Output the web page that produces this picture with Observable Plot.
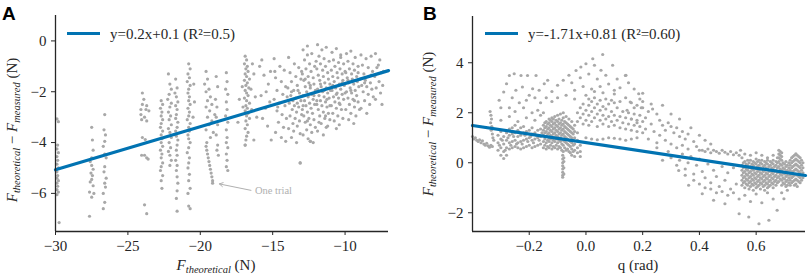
<!DOCTYPE html>
<html><head><meta charset="utf-8">
<script src="https://cdn.jsdelivr.net/npm/d3@7"></script>
<script src="https://cdn.jsdelivr.net/npm/@observablehq/plot@0.6"></script>
<style>
body{margin:0;background:#fff;}
#wrap{display:flex;width:809px;height:278px;overflow:hidden;}
</style></head><body><div id="wrap"></div>
<script>
// ---------- Panel A data ----------
const xTicksA = [-30, -25, -20, -15, -10];
const yTicksA = [0, -2, -4, -6];
const fitA = [[-30, -5.07], [-7, -1.17]];
const legendA = "y=0.2x+0.1 (R²=0.5)";
const annotA = [{x1: -16.5, y1: -5.88, x2: -18.75, y2: -5.62, label: "One trial"}];

const aTrials = [
 [-29.9,-3.07],[-29.8,-3.18],[-29.85,-4.1],[-29.9,-4.25],[-29.8,-4.4],[-29.9,-4.55],[-29.85,-4.7],[-29.9,-4.85],[-29.8,-5.0],[-29.9,-5.15],[-29.85,-5.3],[-29.9,-5.4],[-29.8,-5.5],[-29.9,-5.6],[-29.85,-5.72],[-29.9,-5.85],[-29.8,-5.95],[-29.9,-6.05],[-29.75,-7.15],
 [-27.5,-3.4],[-27.45,-3.9],[-27.4,-4.3],[-27.5,-4.6],[-27.6,-4.75],[-27.5,-4.9],[-27.4,-5.05],[-27.55,-5.2],[-27.45,-5.3],[-27.5,-5.45],[-27.6,-5.55],[-27.4,-5.7],[-27.65,-5.95],[-27.35,-6.0],[-27.5,-6.15],[-27.65,-6.9],
 [-26.6,-2.9],[-26.65,-3.5],[-26.55,-3.7],[-26.6,-3.95],[-26.7,-4.15],[-26.6,-4.45],[-26.5,-4.6],[-26.6,-4.95],[-26.65,-5.15],[-26.5,-5.4],[-26.6,-5.6],[-26.55,-5.75],[-26.7,-6.0],[-26.6,-6.35],[-26.7,-6.6],
 [-23.85,-4.5],[-23.6,-4.65],[-23.85,-6.45],[-23.7,-6.8],
 [-24.0,-2.05],[-23.9,-2.3],[-24.0,-2.5],[-23.7,-2.55],[-24.1,-2.7],[-23.75,-2.7],[-23.55,-2.75],[-24.1,-2.9],[-23.85,-3.0],[-24.05,-3.1],[-23.7,-3.15],[-24.0,-3.8],[-23.8,-3.88],[-23.7,-4.6],[-24.05,-4.5],
 [-22.7,-2.35],[-22.6,-2.5],[-22.75,-2.65],[-22.65,-2.8],[-22.7,-2.95],[-22.6,-3.1],[-22.7,-3.25],[-22.75,-3.4],[-22.6,-3.55],[-22.7,-3.7],[-22.65,-3.85],[-22.7,-4.0],[-22.6,-4.15],[-22.75,-4.3],[-22.65,-4.45],[-22.7,-4.6],[-22.6,-4.8],[-22.7,-4.95],[-22.75,-5.1],[-22.6,-5.3],[-22.7,-5.5],[-22.65,-5.8],
 [-22.2,-1.3],[-22.1,-1.7],[-22.0,-1.9],[-22.15,-2.1],[-22.25,-2.3],[-22.0,-2.45],[-22.1,-2.6],[-22.2,-2.8],[-22.05,-2.95],[-22.15,-3.1],[-22.0,-3.3],[-22.2,-3.45],[-22.1,-3.6],[-22.0,-3.8],[-22.15,-4.0],[-22.05,-4.2],[-22.2,-4.35],[-22.1,-4.5],[-22.0,-4.7],[-22.1,-4.9],
 [-21.7,-1.5],[-21.6,-1.85],[-21.75,-2.05],[-21.65,-2.2],[-21.55,-2.4],[-21.7,-2.55],[-21.6,-2.7],[-21.65,-2.9],[-21.7,-3.05],[-21.55,-3.2],[-21.6,-3.4],[-21.7,-3.55],[-21.65,-3.75],[-21.55,-3.9],[-21.6,-4.1],[-21.65,-4.3],[-21.6,-4.5],[-21.7,-4.7],[-21.6,-4.9],[-21.65,-5.1],[-21.6,-5.35],[-21.55,-5.6],[-21.6,-5.9],[-21.65,-6.2],[-21.6,-6.7],
 [-20.8,-0.9],[-20.7,-1.1],[-20.85,-1.3],[-20.75,-1.45],[-20.9,-1.6],[-20.7,-1.75],[-20.8,-1.9],[-20.85,-2.05],[-20.75,-2.2],[-20.8,-2.35],[-20.7,-2.5],[-20.85,-2.65],[-20.75,-2.8],[-20.8,-2.95],[-20.9,-3.1],[-20.7,-3.25],[-20.8,-3.4],[-20.75,-3.55],[-20.85,-3.7],[-20.8,-3.85],[-20.7,-4.0],[-20.8,-4.2],[-20.9,-4.4],[-20.75,-4.6],[-20.8,-4.8],[-20.85,-5.0],[-20.75,-5.25],[-20.8,-5.5],[-20.7,-5.8],[-20.85,-6.0],[-20.8,-6.5],[-20.7,-6.6],
 [-20.45,-1.7],[-20.4,-2.4],[-20.5,-3.0],
 [-19.6,-1.2],[-19.5,-1.5],[-19.7,-1.7],[-19.4,-1.9],[-19.6,-2.0],[-19.3,-2.2],[-19.5,-2.35],[-19.2,-2.5],[-19.6,-2.6],[-19.35,-2.75],[-19.0,-2.9],[-19.5,-3.0],[-19.2,-3.15],[-19.4,-3.3],[-19.6,-3.5],[-19.1,-3.6],[-19.3,-3.8],[-19.55,-4.0],[-19.6,-4.15],[-19.55,-4.3],[-19.5,-4.45],[-19.45,-4.6],[-19.4,-4.75],[-19.35,-4.9],[-19.3,-5.05],[-19.25,-5.2],[-19.2,-5.35],[-19.15,-5.5],[-19.15,-5.6],
 [-18.9,-1.4],[-18.8,-1.8],[-18.95,-2.3],[-18.85,-2.6],[-18.9,-3.0],[-18.8,-3.3],[-18.9,-3.7],[-18.8,-4.1],[-18.85,-4.3],[-18.75,-4.5],
 [-18.2,-1.25],[-18.15,-1.6],[-18.25,-1.9],[-18.1,-2.1],[-18.2,-2.4],[-18.15,-2.7],[-18.25,-2.95],[-18.1,-3.2],[-18.2,-3.5],[-18.15,-3.8],[-18.2,-4.0],[-18.1,-4.2],[-18.2,-4.45],[-18.15,-4.7],[-18.2,-4.95],[-18.1,-5.1],
 [-16.9,-0.6],[-16.8,-0.75],[-16.95,-0.9],[-16.75,-1.0],[-16.85,-1.1],[-16.7,-1.2],[-16.9,-1.3],[-16.8,-1.4],[-16.6,-1.5],[-16.95,-1.55],[-16.75,-1.65],[-16.85,-1.75],[-16.65,-1.85],[-16.9,-1.95],[-16.8,-2.05],[-16.7,-2.15],[-16.95,-2.25],[-16.8,-2.35],[-16.6,-2.45],[-16.85,-2.55],[-16.75,-2.65],[-16.9,-2.75],[-16.7,-2.85],[-16.8,-2.95],[-16.6,-3.05],[-16.85,-3.15],[-16.75,-3.3],[-16.9,-3.45],[-16.7,-3.6],[-16.8,-3.75],[-16.85,-3.9],[-17.1,-1.8],[-17.05,-2.6],[-16.5,-1.9],[-16.45,-2.7],[-16.9,-4.1]
];

const aCloud = [
 [-16.3,-1.3],[-16.2,-2.2],[-16.1,-3.0],[-16.4,-0.9],[-17.3,-2.3],[-17.4,-3.2],[-16.3,-3.9],
 [-15.9,-1.0],[-15.6,-1.35],[-15.3,-1.7],[-15.8,-2.15],[-15.2,-2.4],[-15.5,-2.65],[-15.7,-3.05],[-15.35,-3.35],[-15.1,-3.9],[-15.45,-2.0],[-15.75,-0.75],[-15.15,-1.2],
 [-14.9,-0.7],[-14.5,-1.0],[-14.2,-1.15],[-14.8,-1.45],[-14.4,-1.6],[-14.1,-1.8],[-14.7,-1.95],[-14.3,-2.1],[-14.9,-2.3],[-14.55,-2.45],[-14.15,-2.55],[-14.7,-2.75],[-14.35,-2.9],[-14.05,-3.05],[-14.6,-3.2],[-14.25,-3.4],[-14.8,-3.6],[-14.4,-3.8],[-14.1,-3.95],[-14.65,-2.6],[-14.0,-2.2],[-14.85,-1.2],
 [-13.9,-0.65],[-13.5,-0.9],[-13.2,-1.05],[-13.8,-1.25],[-13.4,-1.4],[-13.05,-1.5],[-13.7,-1.6],[-13.3,-1.75],[-13.95,-1.85],[-13.55,-1.95],[-13.15,-2.05],[-13.75,-2.15],[-13.4,-2.25],[-13.05,-2.35],[-13.85,-2.45],[-13.5,-2.55],[-13.2,-2.6],[-13.65,-2.7],[-13.35,-2.8],[-13.0,-2.9],[-13.8,-2.95],[-13.45,-3.05],[-13.15,-3.15],[-13.6,-3.25],[-13.3,-3.35],[-13.9,-3.45],[-13.55,-3.55],[-13.1,-3.65],[-13.7,-3.8],[-13.35,-4.0],[-13.1,-4.8],[-13.6,-2.35],[-13.25,-1.95],
 [-12.9,-0.35],[-12.6,-0.2],[-12.3,-0.5],[-12.8,-0.75],[-12.45,-0.9],[-12.1,-1.0],[-12.7,-1.1],[-12.35,-1.2],[-12.95,-1.3],[-12.55,-1.4],[-12.2,-1.45],[-12.85,-1.55],[-12.5,-1.65],[-12.15,-1.7],[-12.75,-1.8],[-12.4,-1.85],[-12.05,-1.95],[-12.65,-2.0],[-12.3,-2.1],[-12.9,-2.15],[-12.55,-2.2],[-12.2,-2.3],[-12.8,-2.35],[-12.45,-2.45],[-12.1,-2.5],[-12.7,-2.55],[-12.35,-2.65],[-12.95,-2.7],[-12.6,-2.8],[-12.25,-2.85],[-12.85,-2.95],[-12.5,-3.05],[-12.15,-3.1],[-12.75,-3.2],[-12.4,-3.3],[-12.05,-3.4],[-12.65,-3.5],[-12.3,-3.6],[-12.9,-3.7],[-12.55,-3.85],[-12.2,-4.0],[-12.4,-3.95],[-12.6,-0.55],[-12.0,-0.8],
 [-11.9,-0.15],[-11.6,-0.35],[-11.3,-0.25],[-11.8,-0.6],[-11.45,-0.7],[-11.1,-0.8],[-11.7,-0.9],[-11.35,-1.0],[-11.95,-1.1],[-11.55,-1.15],[-11.2,-1.25],[-11.85,-1.35],[-11.5,-1.4],[-11.15,-1.5],[-11.75,-1.55],[-11.4,-1.65],[-11.05,-1.7],[-11.65,-1.8],[-11.3,-1.85],[-11.9,-1.9],[-11.55,-2.0],[-11.2,-2.05],[-11.8,-2.15],[-11.45,-2.2],[-11.1,-2.25],[-11.7,-2.35],[-11.35,-2.4],[-11.95,-2.5],[-11.6,-2.55],[-11.25,-2.6],[-11.85,-2.7],[-11.5,-2.8],[-11.15,-2.85],[-11.75,-2.95],[-11.4,-3.05],[-11.05,-3.1],[-11.65,-3.25],[-11.3,-3.4],[-11.9,-3.55],[-11.5,-3.7],[-11.2,-3.35],[-11.0,-1.95],
 [-10.9,-0.45],[-10.6,-0.3],[-10.3,-0.55],[-10.8,-0.75],[-10.45,-0.85],[-10.1,-0.9],[-10.7,-1.0],[-10.35,-1.1],[-10.95,-1.15],[-10.55,-1.25],[-10.2,-1.3],[-10.85,-1.4],[-10.5,-1.45],[-10.15,-1.55],[-10.75,-1.6],[-10.4,-1.7],[-10.05,-1.75],[-10.65,-1.85],[-10.3,-1.9],[-10.9,-1.95],[-10.55,-2.05],[-10.2,-2.1],[-10.8,-2.2],[-10.45,-2.25],[-10.1,-2.3],[-10.7,-2.4],[-10.35,-2.5],[-10.95,-2.55],[-10.6,-2.65],[-10.25,-2.7],[-10.85,-2.85],[-10.5,-2.95],[-10.15,-3.05],[-10.75,-3.15],[-10.4,-3.3],[-10.6,-3.45],[-10.0,-1.2],[-10.3,-0.65],
 [-9.9,-0.5],[-9.6,-0.4],[-9.3,-0.65],[-9.8,-0.8],[-9.45,-0.9],[-9.1,-1.0],[-9.7,-1.1],[-9.35,-1.15],[-9.95,-1.25],[-9.55,-1.3],[-9.2,-1.4],[-9.85,-1.45],[-9.5,-1.5],[-9.15,-1.6],[-9.75,-1.65],[-9.4,-1.7],[-9.05,-1.8],[-9.65,-1.85],[-9.3,-1.95],[-9.9,-2.0],[-9.55,-2.05],[-9.2,-2.15],[-9.8,-2.25],[-9.45,-2.3],[-9.1,-2.4],[-9.7,-2.5],[-9.35,-2.6],[-9.95,-2.7],[-9.6,-2.85],[-9.25,-2.95],[-9.75,-3.1],[-9.4,-3.25],[-9.0,-2.7],
 [-8.9,-0.55],[-8.55,-0.7],[-8.2,-0.6],[-8.8,-0.95],[-8.4,-1.05],[-8.1,-1.2],[-8.7,-1.3],[-8.35,-1.4],[-8.95,-1.5],[-8.6,-1.55],[-8.25,-1.65],[-8.85,-1.75],[-8.5,-1.8],[-8.15,-1.9],[-8.75,-2.0],[-8.4,-2.1],[-8.05,-2.2],[-8.65,-2.35],[-8.3,-2.5],[-8.9,-2.65],[-8.5,-2.85],[-8.2,-1.35],
 [-7.9,-0.5],[-7.6,-0.75],[-7.8,-1.05],[-7.5,-1.25],[-7.95,-1.4],[-7.65,-1.6],[-7.4,-1.75],[-7.85,-1.85],[-7.55,-2.05],[-7.9,-2.3],[-7.45,-2.5],[-7.7,-0.95],[-7.35,-1.2],
 [-13.1,-4.8],[-12.4,-3.95],[-16.9,-4.1],
 [-13.0,-1.2],[-12.75,-1.5],[-12.4,-1.75],[-12.15,-2.15],[-11.95,-2.35],[-11.7,-1.7],[-11.45,-1.95],[-11.25,-2.3],[-11.05,-2.55],[-10.85,-1.75],[-10.6,-2.1],[-10.4,-2.45],[-10.2,-1.65],[-10.0,-2.05],[-9.8,-1.55],[-9.6,-1.95],[-9.35,-2.35],[-13.3,-2.45],[-12.9,-2.55],[-12.6,-3.15],[-13.7,-2.0],[-11.8,-3.2],[-11.35,-2.95],[-9.1,-1.25],[-8.65,-1.65]
];

// ---------- Panel B data ----------
const xTicksB = [-0.2, 0, 0.2, 0.4, 0.6];
const yTicksB = [-2, 0, 2, 4];
const fitB = [[-0.4, 1.49], [0.774, -0.51]];
const legendB = "y=-1.71x+0.81 (R²=0.60)";

const bLeft = [
 [-0.40,1.05],[-0.395,0.95],[-0.39,1.0],[-0.385,0.9],[-0.38,0.85],[-0.375,0.92],[-0.37,0.8],[-0.365,0.88],[-0.36,0.75],[-0.355,0.7],[-0.35,0.78],[-0.345,0.68],[-0.34,0.62],[-0.335,0.7],[-0.33,0.65],
 [-0.338,2.05],[-0.335,1.9],[-0.333,1.75],[-0.336,1.6],[-0.332,1.45],[-0.334,1.3],[-0.33,1.15],[-0.328,1.0],[-0.325,0.9],
 [-0.3,1.7],[-0.27,1.85],[-0.24,1.65],[-0.21,1.8],[-0.18,1.7],[-0.16,1.9]
];
const bBandCols = [
 [-0.31,[0.5,0.8,1.1]],[-0.305,[0.7]],[-0.30,[0.3,0.6,0.95,1.25]],[-0.295,[0.9]],[-0.29,[0.17,0.45,0.75,1.05]],[-0.285,[0.5]],
 [-0.28,[0.3,0.6,0.9,1.2]],[-0.275,[1.0]],[-0.27,[0.55,0.8,1.1,1.35]],[-0.265,[0.7]],[-0.26,[0.6,0.85,1.15,1.4]],[-0.255,[1.05]],
 [-0.25,[0.65,0.9,1.2,1.5]],[-0.245,[0.75]],[-0.24,[0.6,0.8,1.05,1.3]],[-0.235,[1.2]],[-0.23,[0.55,0.85,1.1,1.4]],[-0.225,[0.75]],
 [-0.22,[0.6,0.9,1.2,1.45]],[-0.215,[1.1]],[-0.21,[0.65,0.95,1.25]],[-0.205,[0.85]],[-0.20,[0.7,1.0,1.3]],[-0.195,[1.05]],
 [-0.19,[0.6,0.9,1.15,1.4]],[-0.185,[0.8]],[-0.18,[0.65,0.95,1.2]],[-0.175,[1.1]],[-0.17,[0.7,1.0,1.3]],[-0.165,[0.9]],
 [-0.16,[0.75,1.05,1.35]],[-0.155,[1.2]]
];
const bBlobCols = [
 [-0.15,[0.6,0.85,1.1,1.3,1.5]],[-0.145,[0.7,0.95,1.2,1.4,1.6]],[-0.14,[0.55,0.8,1.05,1.25,1.45,1.65]],
 [-0.135,[0.65,0.9,1.15,1.35,1.55]],[-0.13,[0.6,0.85,1.0,1.2,1.4,1.6,1.75]],[-0.125,[0.7,0.95,1.1,1.3,1.5,1.7]],
 [-0.12,[0.55,0.8,1.05,1.25,1.45,1.65,1.8]],[-0.115,[0.65,0.9,1.15,1.35,1.55,1.75]],[-0.11,[0.6,0.85,1.0,1.2,1.4,1.6,1.85]],
 [-0.105,[0.7,0.95,1.1,1.3,1.5,1.7]],[-0.10,[0.55,0.8,1.05,1.25,1.45,1.65,1.9]],[-0.095,[0.65,0.9,1.15,1.35,1.55,1.75]],
 [-0.09,[0.6,0.85,1.0,1.2,1.4,1.6,1.95]],[-0.085,[0.5,0.75,0.95,1.1,1.3,1.5,1.7]],[-0.08,[0.45,0.7,0.9,1.15,1.35,1.55,1.8,2.0]],
 [-0.075,[0.6,0.85,1.05,1.25,1.45,1.65]],[-0.07,[0.5,0.8,1.0,1.2,1.4,1.6,1.85]],[-0.065,[0.55,0.75,0.95,1.15,1.35,1.55]],
 [-0.06,[0.45,0.7,0.9,1.1,1.3,1.5,1.75]],[-0.055,[0.4,0.65,0.85,1.05,1.25,1.45]],[-0.05,[0.3,0.55,0.8,1.0,1.2,1.4,1.65]],
 [-0.045,[0.45,0.7,0.9,1.15,1.35]],[-0.04,[0.25,0.5,0.75,1.0,1.25,1.5]],[-0.03,[0.4,0.6,0.9,1.2]],[-0.02,[0.25,0.45,0.7]],
 [-0.082,[0.3,0.15,0.0,-0.12,-0.25,-0.38,-0.5,-0.58]],[-0.078,[0.2,0.05,-0.2,-0.45]]
];
const bRiseCols = [
 [-0.03,[1.65,2.0]],[-0.02,[1.8,2.2]],[-0.01,[1.55,1.95,2.35]],[0.0,[1.7,2.1]],
 [0.01,[1.5,1.9,2.3,2.55]],[0.02,[1.65,2.05,2.45]],[0.03,[1.8,2.2,2.6]],
 [0.04,[1.45,1.95,2.35]],[0.05,[1.7,2.1,2.5]],[0.06,[1.55,1.9,2.25,2.8]],
 [0.07,[1.75,2.15,2.55]],[0.08,[1.45,1.85,2.35]],[0.09,[1.65,2.05,2.5]],
 [0.10,[1.5,1.9,2.4,2.75]],[0.11,[1.7,2.2]],[0.12,[1.4,1.85,2.45]],
 [0.13,[1.6,2.05]],[0.14,[1.35,1.8,2.6]],[0.15,[1.55,2.0]],
 [0.16,[1.3,1.75,2.4]],[0.17,[1.5,1.95]],[0.18,[1.25,1.7,2.3]],
 [0.19,[1.45,1.9]],[0.20,[1.2,1.65,2.2]],
 [0.0,[1.0]],[0.02,[0.95]],[0.04,[0.92]],[0.06,[0.95]],[0.08,[1.0]],[0.1,[0.98]],[0.12,[0.95]],[0.14,[0.9]],[0.16,[0.95]],[0.18,[1.0]]
];
const bArcs = [
 [-0.27,3.49],[-0.253,3.56],[-0.229,3.49],[-0.206,3.49],[-0.176,3.49],[-0.28,3.16],[-0.29,2.83],[-0.306,2.5],[-0.3,2.2],[-0.247,2.9],[-0.224,3.03],[-0.188,2.96],[-0.165,2.9],[-0.147,3.16],[-0.135,3.3],[-0.1,3.1],[-0.12,2.85],[-0.2,2.7],[-0.26,2.6],[-0.235,2.4],[-0.21,2.5],[-0.18,2.6],[-0.16,2.4],[-0.14,2.6],[-0.12,2.45],[-0.1,2.6],[-0.27,2.2],[-0.25,2.05],[-0.22,2.2],[-0.19,2.0],[-0.17,2.1],[-0.15,2.0],
 [-0.035,3.69],[-0.018,3.83],[0.0,3.96],[0.024,4.16],[0.059,4.33],[0.03,3.9],[0.053,3.7],[0.094,3.9],[0.141,3.5],[-0.06,3.5],[-0.08,3.3],[-0.05,3.2],[-0.02,3.4],[0.01,3.55],[0.04,3.35],[0.07,3.5],[0.11,3.35],[0.08,3.15],[0.12,3.0],[0.15,3.2],[0.17,2.95],[0.2,2.78],[-0.04,2.9],[-0.01,3.05],[0.02,2.95],[0.05,3.05],[0.1,2.9],[-0.07,2.7],[-0.04,2.55],[0.0,2.7],[0.03,2.85]
];
const bDescent = [
 [0.139,3.49],[0.156,2.43],[0.186,2.76],[0.19,2.55],[0.145,2.1],[0.17,2.2],[0.195,2.2],[0.22,2.05],[0.235,2.15],[0.16,1.75],[0.18,1.6],[0.21,1.8],[0.23,1.55],[0.25,1.95],[0.26,1.7],[0.27,1.5],[0.21,1.35],[0.24,1.25],[0.26,1.1],[0.28,1.3],[0.29,1.6],[0.3,1.45],[0.31,1.2],[0.32,1.4],[0.33,1.05],[0.34,1.25],[0.35,0.95],[0.36,1.15],[0.22,0.95],[0.25,0.8],[0.28,0.9],[0.3,0.75],[0.32,0.6],[0.34,0.7],[0.36,0.55],[0.38,0.85],[0.39,0.65],[0.4,0.5],[0.27,2.3],[0.3,1.95],[0.33,1.75],[0.37,1.4],[0.4,1.1],[0.42,0.9],[0.44,0.75],[0.2,2.45],[0.23,2.35],[0.25,0.6],
 [0.3,0.2],[0.32,-0.1],[0.33,0.1],[0.35,-0.25],[0.36,0.0],[0.37,0.25],[0.38,-0.45],[0.39,-0.1],[0.4,0.15],[0.41,-0.35],[0.42,-0.6],[0.43,-0.05],[0.44,-0.8],[0.45,-0.3],[0.46,-0.55],[0.47,-0.95],[0.48,-0.15],[0.49,-0.7],[0.5,-0.4],[0.51,-1.05],[0.52,-0.2],[0.53,-0.85],[0.34,0.35],[0.29,0.45],[0.27,0.1],
 [0.41,0.5],[0.42,0.45],[0.43,0.55],[0.44,0.4],[0.45,0.5],[0.46,0.45],[0.47,0.38],[0.48,0.5],[0.49,0.42],[0.5,0.35],[0.51,0.45],[0.52,0.32],[0.53,0.4],[0.54,0.3],[0.545,0.5],[0.55,0.2],[0.56,0.35],[0.58,0.3],[0.6,0.4],[0.62,0.3],[0.64,0.2],[0.66,0.3],
 [0.327,-0.31],[0.362,-0.9],[0.41,-1.24],[0.45,-1.5],[0.49,-1.64],[0.54,-2.04],[0.574,-2.17],[0.61,-2.44],[0.645,-2.3],[0.674,-1.9],[0.698,-1.44],[0.71,-1.1],
 [0.38,-0.7],[0.42,-1.0],[0.46,-1.2],[0.5,-1.3],[0.54,-1.45],[0.58,-1.55],[0.62,-1.6],[0.66,-1.45],[0.69,-1.2],
 [0.44,-1.05],[0.48,-1.15],[0.52,-1.2],[0.56,-1.3],[0.6,-1.25],[0.64,-1.2],[0.35,-0.5],[0.4,-0.85]
];
const bRightCols = [
 [0.55,[-0.1,-0.3,-0.5,-0.7,-0.9]],[0.555,[0.0,-0.2,-0.4,-0.6,-0.8]],[0.56,[0.05,-0.15,-0.35,-0.55,-0.75,-1.0]],
 [0.565,[-0.05,-0.25,-0.45,-0.65,-0.85]],[0.57,[0.1,-0.1,-0.3,-0.5,-0.7,-0.9]],[0.575,[0.0,-0.2,-0.4,-0.6,-0.8,-1.05]],
 [0.58,[0.1,-0.15,-0.35,-0.55,-0.75,-0.95]],[0.585,[-0.05,-0.25,-0.45,-0.65,-0.85]],[0.59,[0.05,-0.1,-0.3,-0.5,-0.7,-0.9,-1.1]],
 [0.595,[0.0,-0.2,-0.4,-0.6,-0.8]],[0.60,[0.15,-0.05,-0.25,-0.45,-0.65,-0.85,-1.0]],[0.605,[0.05,-0.15,-0.35,-0.55,-0.75,-0.95]],
 [0.61,[0.1,-0.1,-0.3,-0.5,-0.7,-0.9]],[0.615,[0.0,-0.2,-0.4,-0.6,-0.8,-1.05]],[0.62,[0.1,-0.05,-0.25,-0.45,-0.65,-0.85]],
 [0.625,[-0.15,-0.35,-0.55,-0.75,-0.95]],[0.63,[0.05,-0.1,-0.3,-0.5,-0.7,-0.9,-1.1]],[0.635,[0.0,-0.2,-0.4,-0.6,-0.8]],
 [0.64,[0.1,-0.05,-0.25,-0.45,-0.65,-0.85,-1.0]],[0.645,[-0.15,-0.35,-0.55,-0.75,-0.95]],[0.65,[0.05,-0.1,-0.3,-0.5,-0.7,-0.9]],
 [0.655,[0.0,-0.2,-0.4,-0.6,-0.8]],[0.66,[0.1,-0.05,-0.25,-0.45,-0.65,-0.85,-1.0]],[0.665,[-0.15,-0.35,-0.55,-0.75]],
 [0.67,[0.05,-0.1,-0.3,-0.5,-0.7,-0.9]],[0.675,[0.2,0.0,-0.2,-0.4,-0.6,-0.8]],[0.68,[0.5,0.35,0.2,0.05,-0.15,-0.35,-0.55,-0.75]],
 [0.685,[0.45,0.3,0.15,-0.05,-0.25,-0.45,-0.65]],[0.69,[0.4,0.25,0.1,-0.1,-0.3,-0.5,-0.7,-0.9]],[0.695,[0.0,-0.2,-0.4,-0.6,-0.8]],
 [0.70,[-0.05,-0.25,-0.45,-0.65,-0.85]],[0.705,[0.05,-0.15,-0.35,-0.55,-0.75,-0.95]],[0.71,[-0.1,-0.3,-0.5,-0.7,-0.9]],
 [0.715,[0.0,-0.2,-0.4,-0.6,-0.8]],[0.72,[0.1,-0.1,-0.3,-0.5,-0.7,-0.9]],[0.725,[0.2,0.0,-0.2,-0.4,-0.6,-0.8]],
 [0.73,[0.25,0.05,-0.15,-0.35,-0.55,-0.75]],[0.735,[0.3,0.1,-0.1,-0.3,-0.5,-0.7,-0.9]],[0.74,[0.36,0.15,-0.05,-0.25,-0.45,-0.65,-0.85]],
 [0.745,[0.3,0.1,-0.1,-0.3,-0.5,-0.7,-0.95]],[0.75,[0.25,0.05,-0.15,-0.35,-0.55,-0.75]],[0.755,[0.2,0.0,-0.2,-0.4,-0.6,-0.8]],
 [0.76,[0.1,-0.1,-0.3,-0.5,-0.7]],[0.765,[0.0,-0.2,-0.4,-0.6]]
];

// ---------- drawing ----------
const SERIF = "'Liberation Serif', 'Times New Roman', serif";
const SANS = "'Liberation Sans', Arial, sans-serif";
const GRAY = "#a8a8a8", BLUE = "#0173B2", INK = "#262626";
const cols = c => c.flatMap(([x, ys]) => ys.map(y => [x, y]));
const ptsA = [...aTrials, ...aCloud];
const ptsB = [...bLeft, ...cols(bBandCols), ...cols(bBlobCols), ...cols(bRiseCols), ...bArcs, ...bDescent, ...cols(bRightCols)];
const style = {fontFamily: SERIF, fontSize: "15px", color: INK, background: "#fff", overflow: "visible"};
const fmt1 = d3.format(".1f");
const axisOpts = {tickSize: 4, tickPadding: 5, label: null};

const chartA = Plot.plot({
  width: 404, height: 278, marginLeft: 55, marginRight: 16, marginTop: 15, marginBottom: 47,
  x: {domain: [-30, -7]}, y: {domain: [-7.5, 1]}, style,
  marks: [
    Plot.dot(ptsA, {x: d => d[0], y: d => d[1], r: 1.6, fill: GRAY}),
    Plot.line(fitA, {x: d => d[0], y: d => d[1], stroke: BLUE, strokeWidth: 3.2}),
    Plot.arrow(annotA, {x1: "x1", y1: "y1", x2: "x2", y2: "y2", stroke: "#b0b0b0", strokeWidth: 1, headLength: 6, insetEnd: 1}),
    Plot.text(annotA, {x: "x1", y: "y1", text: "label", dx: 4, textAnchor: "start", fill: "#b0b0b0", className: "annot"}),
    Plot.axisX({ticks: xTicksA, ...axisOpts}),
    Plot.axisY({ticks: yTicksA, ...axisOpts}),
    Plot.ruleX([-30], {stroke: INK, strokeWidth: 1.3}),
    Plot.ruleY([-7.5], {stroke: INK, strokeWidth: 1.3})
  ]
});

const chartB = Plot.plot({
  width: 405, height: 278, marginLeft: 68, marginRight: 4, marginTop: 16, marginBottom: 47,
  x: {domain: [-0.4, 0.774]}, y: {domain: [-2.75, 5.85]}, style,
  marks: [
    Plot.dot(ptsB, {x: d => d[0], y: d => d[1], r: 1.6, fill: GRAY}),
    Plot.line(fitB, {x: d => d[0], y: d => d[1], stroke: BLUE, strokeWidth: 3.2}),
    Plot.axisX({ticks: xTicksB, tickFormat: fmt1, ...axisOpts}),
    Plot.axisY({ticks: yTicksB, ...axisOpts}),
    Plot.ruleX([-0.4], {stroke: INK, strokeWidth: 1.3}),
    Plot.ruleY([-2.75], {stroke: INK, strokeWidth: 1.3})
  ]
});

function decorate(svg, o) {
  const s = d3.select(svg);
  // force serif and size on every text drawn by Plot (tick labels, annotation)
  s.selectAll("text").style("font-family", SERIF).style("font-size", "15px");
  s.selectAll(".annot text, g.annot text").style("font-size", "10.5px");
  s.append("text").attr("x", o.px).attr("y", 20).attr("text-anchor", "start")
    .style("font-family", SANS).style("font-weight", "bold").style("font-size", "19px").attr("fill", "#000").text(o.panel);
  s.append("line").attr("x1", o.lx).attr("x2", o.lx + 33).attr("y1", 33.5).attr("y2", 33.5)
    .attr("stroke", BLUE).attr("stroke-width", 3.2);
  s.append("text").attr("x", o.lx + 43).attr("y", 38.5).attr("text-anchor", "start")
    .style("font-family", SERIF).style("font-size", "15px").attr("fill", INK).text(o.legend);
  const yl = s.append("text").attr("transform", `translate(${o.yx},${o.yy}) rotate(-90)`)
    .attr("text-anchor", "middle").style("font-family", SERIF).style("font-size", "15px").attr("fill", INK);
  yl.append("tspan").style("font-style", "italic").text("F");
  yl.append("tspan").style("font-style", "italic").style("font-size", "10.5px").attr("dy", 3).text("theoretical");
  yl.append("tspan").attr("dy", -3).text(" − ");
  yl.append("tspan").style("font-style", "italic").text("F");
  yl.append("tspan").style("font-style", "italic").style("font-size", "10.5px").attr("dy", 3).text("measured");
  yl.append("tspan").attr("dy", -3).text(" (N)");
  const xl = s.append("text").attr("x", o.xx).attr("y", 270).attr("text-anchor", "middle")
    .style("font-family", SERIF).style("font-size", "15px").attr("fill", INK);
  if (o.xlabel) xl.text(o.xlabel);
  else {
    xl.append("tspan").style("font-style", "italic").text("F");
    xl.append("tspan").style("font-style", "italic").style("font-size", "10.5px").attr("dy", 3).text("theoretical");
    xl.append("tspan").attr("dy", -3).text(" (N)");
  }
}
decorate(chartA, {panel: "A", px: 2, lx: 67, legend: legendA, yx: 17, yy: 130, xx: 216});
decorate(chartB, {panel: "B", px: 19, lx: 81, legend: legendB, yx: 29, yy: 124, xx: 234, xlabel: "q (rad)"});
document.getElementById("wrap").append(chartA, chartB);
</script></body></html>
